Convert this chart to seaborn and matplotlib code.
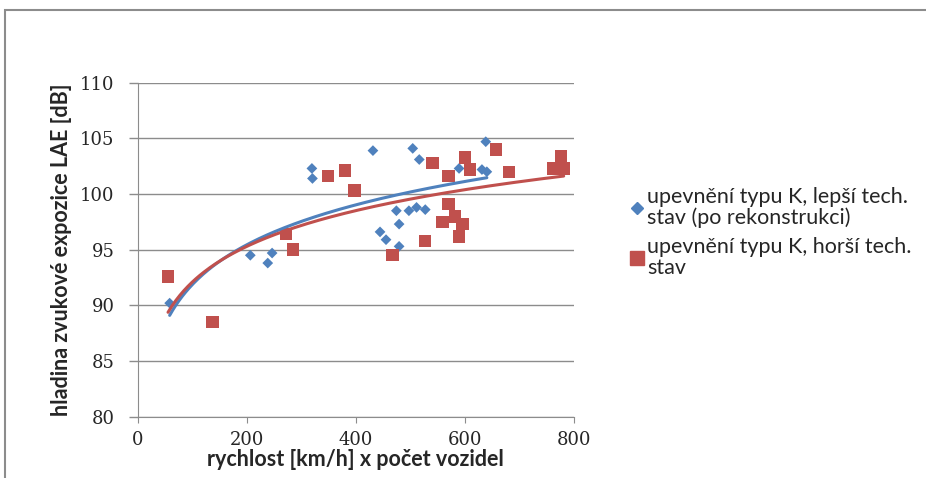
import numpy as np
import pandas as pd
import matplotlib
matplotlib.use('Agg')
import matplotlib.pyplot as plt
import seaborn as sns
from matplotlib.lines import Line2D
from matplotlib.patches import Rectangle

# data
lepsi_x = [59, 207, 239, 247, 320, 321, 432, 445, 456, 475, 480, 480, 498, 505,
           512, 517, 528, 590, 632, 639, 641]
lepsi_y = [90.2, 94.5, 93.8, 94.7, 102.3, 101.4, 103.9, 96.6, 95.9, 98.5, 97.3,
           95.3, 98.5, 104.1, 98.8, 103.1, 98.6, 102.3, 102.2, 104.7, 102.0]
horsi_x = [56, 138, 272, 285, 350, 381, 398, 468, 528, 541, 560, 571, 571, 583,
           590, 596, 601, 610, 658, 682, 763, 777, 782]
horsi_y = [92.6, 88.5, 96.4, 95.0, 101.6, 102.1, 100.3, 94.5, 95.8, 102.8, 97.5,
           101.6, 99.1, 98.0, 96.2, 97.3, 103.3, 102.2, 104.0, 102.0, 102.3, 103.4, 102.3]

label_lepsi = 'upevnění typu K, lepší tech.\nstav (po rekonstrukci)'
label_horsi = 'upevnění typu K, horší tech.\nstav'
blue = '#4F81BD'
red = '#C0504D'

lepsi = pd.DataFrame({'x': lepsi_x, 'y': lepsi_y})
horsi = pd.DataFrame({'x': horsi_x, 'y': horsi_y})


# logaritmicky trend (jako v Excelu)
def log_trend(g):
    a, b = np.polyfit(np.log(g['x']), g['y'], 1)
    xs = np.linspace(g['x'].min(), g['x'].max(), 200)
    return pd.DataFrame({'x': xs, 'y': a * np.log(xs) + b})


sns.set_style('white')
plt.rcParams['font.family'] = ['Lato', 'DejaVu Sans']

fig = plt.figure(figsize=(9.26, 4.78), dpi=100)
# oriznuty ramecek grafu
fig.patches.append(Rectangle((5 / 926, -0.1), 1.1, (478 - 10) / 478 + 0.1,
                             transform=fig.transFigure, fill=False,
                             edgecolor='#8c8c8c', linewidth=1.5))
ax = fig.add_axes([137.5 / 926, (478 - 416.7) / 478, 436 / 926, 334 / 478])

sns.scatterplot(data=lepsi, x='x', y='y', color=blue, marker='D', s=30,
                edgecolor='none', ax=ax, zorder=3)
sns.scatterplot(data=horsi, x='x', y='y', color=red, marker='s', s=80,
                edgecolor='none', ax=ax, zorder=3)
sns.lineplot(data=log_trend(lepsi), x='x', y='y', color=blue, linewidth=2.2,
             ax=ax, zorder=4)
sns.lineplot(data=log_trend(horsi), x='x', y='y', color=red, linewidth=2.2,
             ax=ax, zorder=4)

ax.set_xlim(0, 800)
ax.set_ylim(80, 110)
ax.set_xticks([0, 200, 400, 600, 800])
ax.set_yticks(range(80, 111, 5))
ax.grid(axis='y', color='#8c8c8c', linewidth=1)
ax.set_axisbelow(True)
for s in ['top', 'right']:
    ax.spines[s].set_visible(False)
for s in ['left', 'bottom']:
    ax.spines[s].set_color('#8c8c8c')
ax.tick_params(axis='x', length=4, color='#8c8c8c', direction='out',
               bottom=True, pad=6.5)
ax.tick_params(axis='y', length=6.5, width=1, color='#8c8c8c', direction='out',
               left=True, pad=10)
for lab in ax.get_xticklabels() + ax.get_yticklabels():
    lab.set_fontfamily('DejaVu Serif')
    lab.set_fontsize(13)
ax.set_xlabel('rychlost [km/h] x počet vozidel', fontsize=15.5,
              fontweight='bold', labelpad=0)
ax.set_ylabel('hladina zvukové expozice LAE [dB]', fontsize=15.5,
              fontweight='bold', labelpad=6)

handles = [Line2D([], [], marker='D', color=blue, linestyle='none', markersize=6),
           Line2D([], [], marker='s', color=red, linestyle='none', markersize=9.5)]
leg = fig.legend(handles, [label_lepsi, label_horsi], loc='upper left',
                 bbox_to_anchor=(631 / 926, 1 - 187 / 478), frameon=False,
                 fontsize=15.5, handlelength=0.55, handletextpad=0.2, borderpad=0,
                 labelspacing=0.4, borderaxespad=0)
for t in leg.get_texts():
    t.set_linespacing(1.05)

fig.savefig('out.png', dpi=100)
